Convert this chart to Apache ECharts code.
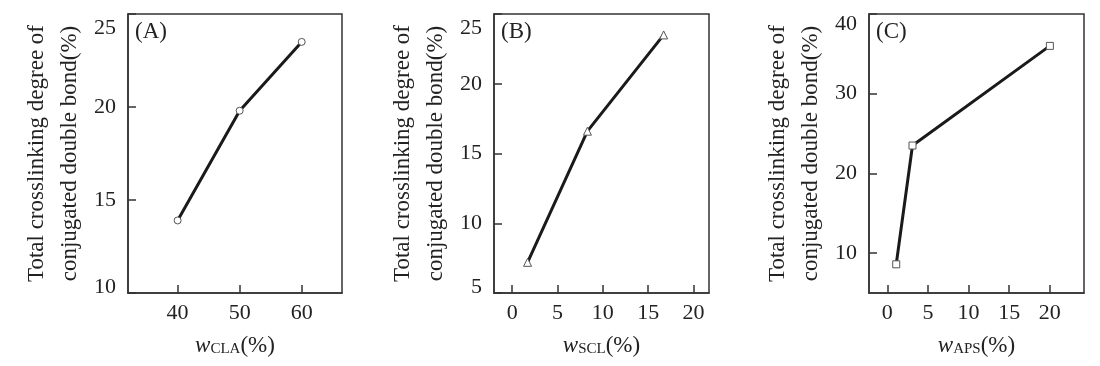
<!DOCTYPE html>
<html>
<head>
<meta charset="utf-8">
<script src="https://cdn.jsdelivr.net/npm/echarts@6/dist/echarts.min.js"></script>
<style>
html,body{margin:0;padding:0;background:#fff;}
#chart{width:1100px;height:366px;}
</style>
</head>
<body>
<div id="chart"></div>
<script>
// Panel A: CLA content
const xA = [40, 50, 60];
const yA = [13.9, 19.8, 23.5];
const xTicksA = [40, 50, 60];
const yTicksA = [10, 15, 20, 25];
// Panel B: SCL content
const xB = [1.7, 8.3, 16.7];
const yB = [7.2, 16.6, 23.5];
const xTicksB = [0, 5, 10, 15, 20];
const yTicksB = [5, 10, 15, 20, 25];
// Panel C: APS content
const xC = [1.1, 3.1, 20];
const yC = [8.6, 23.5, 36.0];
const xTicksC = [0, 5, 10, 15, 20];
const yTicksC = [10, 20, 30, 40];

const panelLabels = ['(A)', '(B)', '(C)'];
const xSubs = ['CLA', 'SCL', 'APS'];
const yTitle = 'Total crosslinking degree of\nconjugated double bond(%)';

const FONT = '"Liberation Serif", "DejaVu Serif", serif';
const TXT = '#222';

const grids = [
  {left: 128, top: 14, width: 214, height: 279},
  {left: 494, top: 14, width: 215, height: 279},
  {left: 869, top: 14, width: 215, height: 279}
];
const xRanges = [[32, 66.5], [-2, 21.7], [-2.25, 24.2]];
const yRanges = [[10, 25], [5, 25], [5, 40]];
const xTicks = [xTicksA, xTicksB, xTicksC];
const yTicks = [yTicksA, yTicksB, yTicksC];
const xs = [xA, xB, xC];
const ys = [yA, yB, yC];
const symbols = ['circle', 'triangle', 'rect'];
const topPad = [28, 28, 20];

const option = {
  backgroundColor: '#fff',
  animation: false,
  textStyle: {fontFamily: FONT},
  grid: grids.map(g => Object.assign({show: true, borderColor: '#333', borderWidth: 1.5, backgroundColor: 'transparent'}, g)),
  xAxis: grids.map((g, i) => ({
    type: 'value', gridIndex: i,
    min: xRanges[i][0], max: xRanges[i][1],
    axisLine: {show: true, onZero: false, lineStyle: {color: '#333', width: 1.5}},
    axisTick: {show: true, inside: true, length: 8, customValues: xTicks[i], lineStyle: {color: '#333', width: 1.5}},
    axisLabel: {customValues: xTicks[i], fontFamily: FONT, fontSize: 22, color: TXT, margin: 9},
    splitLine: {show: false},
    name: '{i|w}{s|' + xSubs[i] + '}{n|(%)}',
    nameLocation: 'middle', nameGap: 41,
    nameTextStyle: {
      fontFamily: FONT, color: TXT,
      rich: {
        i: {fontFamily: FONT, fontStyle: 'italic', fontSize: 23, color: TXT},
        s: {fontFamily: FONT, fontSize: 15, color: TXT, verticalAlign: 'bottom', padding: [6, 0, 0, 0]},
        n: {fontFamily: FONT, fontSize: 23, color: TXT}
      }
    }
  })),
  yAxis: grids.map((g, i) => ({
    type: 'value', gridIndex: i,
    min: yRanges[i][0], max: yRanges[i][1],
    axisLine: {show: true, onZero: false, lineStyle: {color: '#333', width: 1.5}},
    axisTick: {show: true, inside: true, length: 8, customValues: yTicks[i], lineStyle: {color: '#333', width: 1.5}},
    axisLabel: {
      customValues: yTicks[i], fontFamily: FONT, fontSize: 22, color: TXT, margin: 12,
      formatter: function (v) {
        if (v === yRanges[i][1]) return '{mx|' + v + '}';
        if (v === yRanges[i][0]) return '{mn|' + v + '}';
        return '{r|' + v + '}';
      },
      rich: {
        r: {fontFamily: FONT, fontSize: 22, color: TXT},
        mx: {fontFamily: FONT, fontSize: 22, color: TXT, padding: [topPad[i], 0, 0, 0]},
        mn: {fontFamily: FONT, fontSize: 22, color: TXT, padding: [0, 0, 12, 0]}
      }
    },
    splitLine: {show: false},
    name: yTitle,
    nameLocation: 'middle', nameGap: 42,
    nameTextStyle: {fontFamily: FONT, fontSize: 23, color: TXT, lineHeight: 33}
  })),
  graphic: grids.map((g, i) => ({
    type: 'text', left: g.left + 7, top: g.top + 6,
    style: {text: panelLabels[i], font: '23px ' + FONT, fill: TXT}
  })),
  series: grids.map((g, i) => ({
    type: 'line', xAxisIndex: i, yAxisIndex: i,
    data: xs[i].map((x, k) => [x, ys[i][k]]),
    symbol: symbols[i], symbolSize: i === 1 ? 8 : 7,
    showAllSymbol: true,
    lineStyle: {color: '#1a1a1a', width: 3},
    itemStyle: {color: '#fff', borderColor: '#555', borderWidth: 1},
    z: 3
  }))
};

const chart = echarts.init(document.getElementById('chart'), null, {renderer: 'canvas'});
chart.setOption(option);
</script>
</body>
</html>
